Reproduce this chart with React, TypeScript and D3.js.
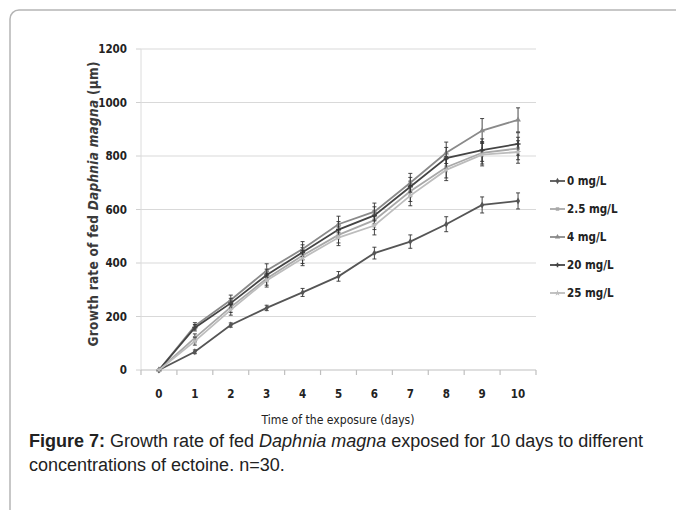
import React from "react";
import * as d3 from "d3";

const days = [0, 1, 2, 3, 4, 5, 6, 7, 8, 9, 10];
const yTicks = [0, 200, 400, 600, 800, 1000, 1200];
const seriesNames = ["0 mg/L", "2.5 mg/L", "4 mg/L", "20 mg/L", "25 mg/L"];
const s0 = [0, 68, 168, 232, 290, 350, 437, 480, 545, 617, 632];
const s25 = [0, 120, 235, 342, 428, 505, 560, 668, 758, 812, 828];
const s4 = [0, 165, 262, 372, 452, 545, 592, 700, 812, 895, 935];
const s20 = [0, 158, 250, 355, 440, 525, 578, 685, 792, 822, 845];
const s25b = [0, 108, 225, 335, 418, 495, 540, 652, 748, 805, 815];
const e0 = [0, 7, 8, 10, 15, 18, 22, 25, 28, 30, 30];
const e25 = [0, 15, 20, 25, 30, 30, 35, 38, 40, 42, 42];
const e4 = [0, 12, 18, 25, 28, 30, 32, 35, 40, 45, 45];
const e20 = [0, 12, 18, 22, 28, 30, 32, 35, 40, 42, 42];
const e25b = [0, 15, 20, 25, 28, 30, 35, 38, 40, 42, 42];

const seriesValues = [s0, s25, s4, s20, s25b];
const seriesErrors = [e0, e25, e4, e20, e25b];
const seriesColors = ["#555555", "#a8a8a8", "#8a8a8a", "#444444", "#bdbdbd"];
const seriesShapes = [d3.symbolDiamond, d3.symbolSquare, d3.symbolTriangle, d3.symbolCross, d3.symbolStar];

const FONT = "'DejaVu Sans Condensed', 'DejaVu Sans', sans-serif";
const CAP = "'Liberation Sans', Arial, sans-serif";

export default function App() {
  const W = 676, H = 510;
  const left = 141, right = 536, top = 49, bottom = 370;
  const x = d3.scaleBand<number>().domain(days).range([left, right]);
  const y = d3.scaleLinear().domain([0, 1200]).range([bottom, top]);
  const cx = (d: number) => (x(d) as number) + x.bandwidth() / 2;
  const line = d3.line<number>().x((_, i) => cx(days[i])).y((v) => y(v));
  const sym = (t: d3.SymbolType, size: number) => d3.symbol(t, size)() as string;
  const boundaries = d3.range(days.length + 1).map((i) => left + i * x.bandwidth());

  return (
    <svg width={W} height={H} style={{ position: "absolute", left: 0, top: 0, background: "#fff" }}>
      <rect x={10} y={10} width={720} height={600} rx={9} fill="#fff" stroke="#b5b5b5" strokeWidth={1.5} />
      {yTicks.map((t) => (
        <g key={t}>
          {t > 0 && <line x1={left} x2={right} y1={y(t)} y2={y(t)} stroke="#d9d9d9" strokeWidth={1.2} />}
          <line x1={left - 5} x2={left} y1={y(t)} y2={y(t)} stroke="#d0d0d0" strokeWidth={1} />
          <text x={127} y={y(t)} dy="0.35em" textAnchor="end" fontFamily={FONT} fontSize={11.5} fontWeight="bold" fill="#222">{t}</text>
        </g>
      ))}
      <line x1={left} x2={left} y1={top} y2={bottom} stroke="#dcdcdc" strokeWidth={1} />
      <line x1={left} x2={right} y1={bottom} y2={bottom} stroke="#bfbfbf" strokeWidth={1.2} />
      {boundaries.map((b, i) => (
        <line key={i} x1={b} x2={b} y1={bottom} y2={bottom + 5} stroke="#bfbfbf" strokeWidth={1.2} />
      ))}
      {days.map((d) => (
        <text key={d} x={cx(d)} y={394} dy="0.35em" textAnchor="middle" fontFamily={FONT} fontSize={11.5} fontWeight="bold" fill="#222">{d}</text>
      ))}
      <text x={338} y={420} dy="0.35em" textAnchor="middle" fontFamily={FONT} fontSize={12} fill="#222" textLength={153} lengthAdjust="spacingAndGlyphs">Time of the exposure (days)</text>
      <text transform={`translate(93,204) rotate(-90)`} textAnchor="middle" dy="0.35em" fontFamily={FONT} fontSize={13.5} fontWeight="bold" fill="#3a3a3a" textLength={285} lengthAdjust="spacing">
        Growth rate of fed <tspan fontStyle="italic">Daphnia magna</tspan> (µm)
      </text>
      {seriesValues.map((vals, si) => (
        <g key={si}>
          <path d={line(vals) as string} fill="none" stroke={seriesColors[si]} strokeWidth={1.8} />
          {vals.map((v, i) => {
            const e = seriesErrors[si][i];
            if (e <= 0) return null;
            const px = cx(days[i]);
            return (
              <g key={i} stroke="#333" strokeWidth={0.9}>
                <line x1={px} x2={px} y1={y(v - e)} y2={y(v + e)} />
                <line x1={px - 2} x2={px + 2} y1={y(v - e)} y2={y(v - e)} />
                <line x1={px - 2} x2={px + 2} y1={y(v + e)} y2={y(v + e)} />
              </g>
            );
          })}
          {vals.map((v, i) => (
            <path key={"m" + i} d={sym(seriesShapes[si], 14)} transform={`translate(${cx(days[i])},${y(v)})`} fill={seriesColors[si]} />
          ))}
        </g>
      ))}
      {seriesNames.map((n, i) => {
        const ly = 181 + i * 28;
        return (
          <g key={n}>
            <line x1={550} x2={565} y1={ly} y2={ly} stroke={seriesColors[i]} strokeWidth={1.8} />
            <path d={sym(seriesShapes[i], 12)} transform={`translate(557.5,${ly})`} fill={seriesColors[i]} />
            <text x={567} y={ly} dy="0.35em" fontFamily={FONT} fontSize={11.5} fontWeight="bold" fill="#222">{n}</text>
          </g>
        );
      })}
      <text x={29} y={447} fontFamily={CAP} fontSize={18} fill="#222">
        <tspan fontWeight="bold">Figure 7:</tspan> Growth rate of fed <tspan fontStyle="italic">Daphnia magna</tspan> exposed for 10 days to different
      </text>
      <text x={29} y={471} fontFamily={CAP} fontSize={18} fill="#222">
        concentrations of ectoine. n=30.
      </text>
    </svg>
  );
}
